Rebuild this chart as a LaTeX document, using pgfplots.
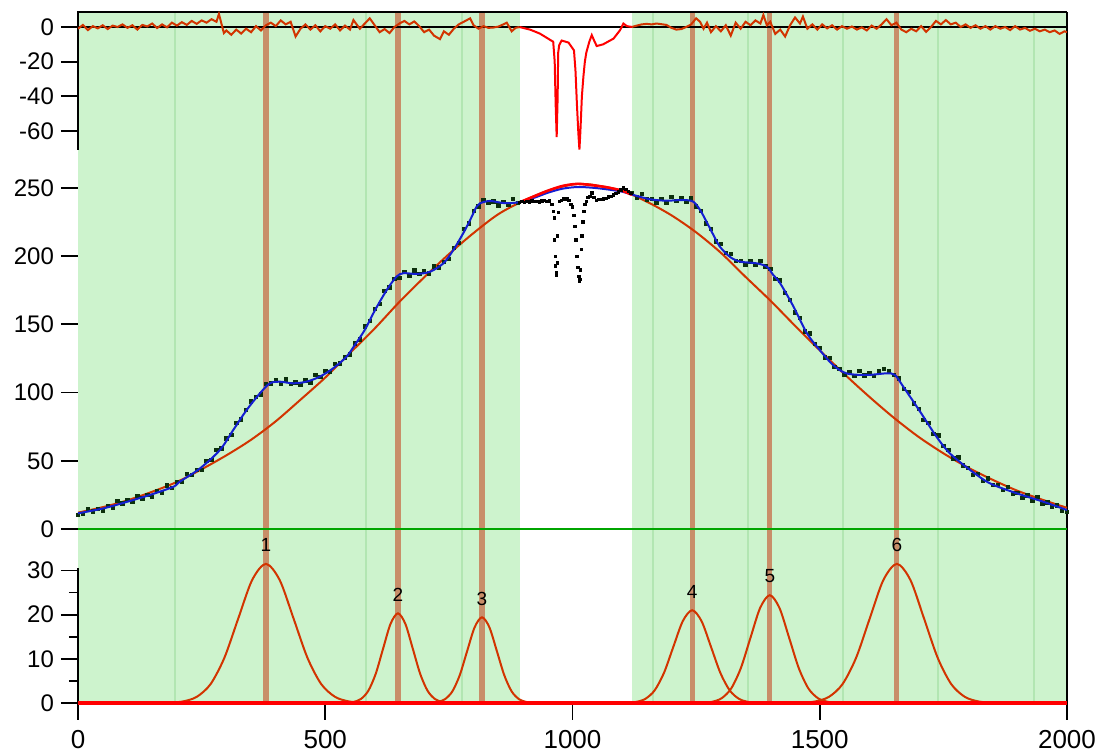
\documentclass[border=0pt]{standalone}
\usepackage{fontspec}
\setmainfont{Liberation Sans}
\usepackage{pgfplots}
\usepackage{pgfplotstable}
\pgfplotsset{compat=1.18}

\definecolor{bgg}{RGB}{205,243,205}
\definecolor{lgl}{RGB}{178,230,178}
\definecolor{tanl}{RGB}{200,142,105}
\definecolor{resc}{RGB}{210,52,0}
\definecolor{fitb}{RGB}{20,30,210}
\definecolor{dotc}{RGB}{12,48,12}
\definecolor{zgreen}{RGB}{0,165,0}

% fitted baseline (broad background)
\pgfplotstableread{
x y
0 12
50 16
100 21
150 27.3
200 34.5
250 43.8
300 54
350 65.4
400 79
450 94.8
500 111
550 129
600 147
650 166.5
700 184.5
750 201.5
800 217
850 230.8
900 240.5
950 248
1000 252.6
1030 252.8
1050 251.8
1100 248
1150 240
1200 230
1250 217.5
1300 202.5
1350 184.8
1400 167.5
1450 149
1500 131
1550 113.5
1600 97
1650 81.5
1700 67.5
1750 55.5
1800 45
1850 36
1900 28
1950 21.5
2000 15.5
}\baseline

% total fit
\pgfplotstableread{
x y
0 11.5
50 15
100 20
150 25.5
193 31
206 34.7
247 44.5
287 57.9
314 72.6
341 87.2
368 99.5
388 106.8
408 108
435 106.8
462 108
489 111.7
516 117.8
543 126.3
560 135
580 146
600 160
624 175
644 185
658 187.5
685 187
712 188.6
739 194.8
759 204.5
779 216.8
793 226.5
806 236.3
813 238.8
833 240.5
860 239
887 239.3
920 242.5
950 246.5
980 249.5
1010 250.7
1040 250.2
1070 249
1100 247.3
1123 244.9
1157 241.7
1190 240.7
1224 241.2
1244 240
1258 233.9
1271 225.3
1285 215.5
1298 207
1318 199.6
1339 196
1372 194.8
1393 192.3
1406 186.2
1420 180.1
1447 163
1474 143.5
1500 131.2
1527 120.2
1554 114.1
1595 112.9
1635 114.1
1652 112.9
1669 104.3
1703 86
1736 67.7
1763 55.5
1804 43.3
1844 33.5
1898 26.2
1952 20
2000 13.9
}\fit

% measured points inside the fit ranges
\pgfplotstableread{
x y
0 10.5
10 11.0
20 14.6
30 12.8
40 14.7
50 13.2
60 17.0
70 15.5
80 20.4
90 18.7
100 21.3
110 19.9
120 24.2
130 22.5
140 24.8
150 23.6
160 27.8
170 26.6
180 31.9
190 30.3
200 34.5
210 34.5
220 40.3
230 39.6
240 43.2
250 43.5
260 49.9
270 50.7
280 58.2
290 59.2
300 66.4
310 69.2
320 78.0
330 80.4
340 87.1
350 93.5
360 96.9
370 98.7
380 106.5
390 106.7
400 109.0
410 106.7
420 109.7
430 106.2
440 107.5
450 105.5
460 108.9
470 107.5
480 113.1
490 111.6
500 115.7
510 115.2
520 121.2
530 121.4
540 125.8
550 128.0
560 136.0
570 139.0
580 148.6
590 152.7
600 161.5
610 165.1
620 174.7
630 177.2
640 183.4
650 184.0
660 188.5
670 185.8
680 189.7
690 187.0
700 189.4
710 187.3
720 192.6
730 191.9
740 195.7
750 198.1
760 206.1
770 209.8
780 220.1
790 224.1
800 233.3
810 236.5
820 241.4
830 239.0
840 240.1
850 237.2
860 239.8
870 237.5
880 241.9
890 239.2
1120 246.5
1130 243.0
1140 245.5
1150 241.6
1160 242.0
1170 239.3
1180 242.0
1190 239.2
1200 243.4
1210 240.7
1220 242.6
1230 239.6
1240 242.4
1250 236.6
1260 233.0
1270 224.0
1280 220.1
1290 210.7
1300 208.9
1310 202.3
1320 201.5
1330 196.7
1340 196.4
1350 193.6
1360 196.2
1370 193.4
1380 196.4
1390 192.4
1400 190.5
1410 183.3
1420 182.3
1430 173.0
1440 167.8
1450 158.8
1460 154.6
1470 144.9
1480 143.3
1490 135.7
1500 132.7
1510 125.9
1520 125.3
1530 118.7
1540 117.4
1550 112.8
1560 115.0
1570 112.2
1580 115.9
1590 112.7
1600 114.6
1610 112.2
1620 115.9
1630 117.5
1640 115.9
1650 112.8
1660 110.4
1670 102.6
1680 100.6
1690 92.2
1700 88.0
1710 80.1
1720 77.6
1730 69.6
1740 68.5
1750 61.1
1760 57.9
1770 51.9
1780 52.6
1790 46.6
1800 44.9
1810 39.8
1820 40.4
1830 35.4
1840 37.1
1850 32.4
1860 32.4
1870 28.6
1880 30.9
1890 26.2
1900 26.4
1910 22.8
1920 24.6
1930 21.0
1940 23.5
1950 18.9
1960 19.4
1970 16.4
1980 17.3
1990 13.2
2000 12.5
}\datain

% excluded points
\pgfplotstableread{
x y
893 239.5
898 240
903 239.5
908 240.2
913 239.8
918 240.5
923 240
928 240.3
933 239.8
938 240.4
943 240.9
948 240.2
953 240.6
958 238
961 233
963 228
964 212
965 200
966 193
967 188
968 186
969 195
970 215
971 232
973 240
977 241
981 242
985 241.5
989 242.2
993 241
997 238
1000 236
1003 230
1005 222
1007 212
1009 200
1011 192
1013 185
1014 182
1015 183
1016 190
1018 205
1019 215
1021 225
1023 233
1025 238
1028 240
1031 243
1035 244
1039 246.5
1043 243
1048 241
1053 241.5
1058 241.8
1063 242
1068 242.5
1073 243.5
1078 244
1083 245
1088 246
1093 247
1098 248.5
1103 250
1108 249
1113 247.5
1118 246
}\dataout

\newcommand{\bands}{%
  \fill[bgg] (rel axis cs:0,0) rectangle (rel axis cs:0.4465,1);
  \fill[bgg] (rel axis cs:0.56,0) rectangle (rel axis cs:1,1);
  \pgfplotsinvokeforeach{0.098,0.291,0.388,0.5815,0.6775,0.7735,0.8695,0.9665}{
    \draw[lgl, line width=0.9pt] (rel axis cs:##1,0) -- (rel axis cs:##1,1);}
  \pgfplotsinvokeforeach{0.19,0.3235,0.4085,0.621,0.6995,0.828}{
    \draw[tanl, line width=2.6pt] (rel axis cs:##1,0) -- (rel axis cs:##1,1);}
  \draw[black, line width=0.9pt] (rel axis cs:1,0) -- (rel axis cs:1,1);
}

\pgfplotsset{
  panel/.style={
    scale only axis, width=494.5pt,
    xmin=0, xmax=2000,
    anchor=south west,
    clip mode=individual,
    axis line style={draw=none},
    tick align=outside,
    ytick pos=left, xtick pos=bottom,
    major tick length=8.5pt,
    minor tick length=4.5pt,
    tick style={black, line width=0.9pt},
    yticklabel style={font=\fontsize{12}{14}\selectfont},
    /pgf/number format/assume math mode=true,
    /pgf/number format/1000 sep={},
  },
}

\begin{document}
\begin{tikzpicture}
\path[use as bounding box] (0,0) rectangle (549.5pt,377pt);

% residuals
\begin{axis}[panel, at={(39pt,302pt)}, height=69pt,
  ymin=-70.98, ymax=8.66, ytick={-60,-40,-20,0}, xtick=\empty]
  \bands
  \draw[black, line width=0.9pt] (rel axis cs:0,0) -- (rel axis cs:0,1) -- (rel axis cs:1,1);
  \draw[black, line width=0.7pt] (axis cs:0,0) -- (axis cs:2000,0);
  \addplot[resc, line width=1pt] coordinates {
    (0,-1) (10,1.2) (20,-1.8) (30,0.5) (40,-0.8) (50,1) (60,-1.2) (70,0.8) (80,0) (90,1.5)
    (100,-0.5) (110,1) (120,-1.5) (130,1.2) (140,0.3) (150,2) (160,-0.6) (170,1.5) (180,-0.2) (190,2.5)
    (200,0.8) (210,2.8) (220,1.2) (230,3.5) (240,1.8) (250,3.8) (260,2.5) (270,4.5) (280,3) (285,7.5)
    (290,2) (295,-3.5) (300,-2) (310,-4.5) (320,-1.5) (330,-3.8) (340,-1) (350,-3) (360,0.5) (370,-2)
    (380,1) (390,2.5) (400,0.5) (410,3.8) (420,1.5) (430,3) (440,-5.5) (450,-1) (460,1.5) (470,-1.5)
    (480,1) (490,-2.5) (500,0.5) (510,-1) (520,1.5) (530,-2) (540,0.8) (550,-1.5) (557,4) (570,-1)
    (580,2) (590,5) (600,1) (610,-3) (620,-1.2) (630,-3.5) (640,0) (650,2) (660,3.5) (670,1.5)
    (680,3.2) (690,0.5) (700,-3) (710,-1.5) (720,-5) (732,-7) (740,-2.5) (750,-4.5) (760,-1) (770,1.5)
    (780,3) (793,5) (800,1) (810,-1) (820,0.5) (830,-0.5) (840,-0.3) (850,0.2) (860,1.5) (867,2.5)
    (877,-2.5) (885,-0.5) (893,0)};
  \addplot[resc, line width=1pt] coordinates {
    (1120,0) (1130,0.8) (1140,1.5) (1150,1.8) (1160,1.5) (1170,2) (1180,1.6) (1190,1.2) (1200,-0.5)
    (1210,-1.5) (1220,-1.2) (1230,0) (1240,1.5) (1250,5) (1258,3) (1265,-1) (1272,2.5) (1280,-3)
    (1290,0.5) (1300,-2.5) (1310,1) (1320,-5) (1330,2.5) (1340,-1) (1350,3) (1360,1) (1370,3.8)
    (1380,2) (1386,7) (1393,1) (1400,3) (1410,-4) (1420,-1.5) (1430,-5.5) (1440,1) (1450,5.5)
    (1460,2) (1466,6) (1475,-1) (1485,1.5) (1495,-1.5) (1505,1.5) (1515,-0.8) (1525,1) (1535,-1.5)
    (1545,0.5) (1555,-1) (1565,0.3) (1575,-1.5) (1585,-0.2) (1595,-2) (1605,0.8) (1615,-1) (1625,1.5)
    (1635,4.5) (1645,1) (1655,2.5) (1665,-1.5) (1675,-3) (1685,-1) (1695,-2.5) (1705,0.5) (1715,-2.8)
    (1725,0) (1735,3.5) (1745,1.5) (1755,4) (1765,1.5) (1775,2.5) (1785,0) (1795,1.5) (1805,-0.5)
    (1815,1) (1825,-1) (1835,0.5) (1845,-1.5) (1855,0.5) (1865,-1) (1875,0) (1885,-1.8) (1895,0.5)
    (1905,-1.5) (1915,-0.5) (1925,-2.2) (1935,-1) (1945,-2.5) (1955,-1.5) (1965,-3) (1975,-2)
    (1985,-4) (1995,-2.5) (2000,-3)};
  \addplot[red, line width=1pt] coordinates {
    (893,0) (914,-1.5) (934,-3.8) (954,-7.3) (961,-8.5) (964,-20) (966,-45) (968,-63.5) (970,-40)
    (971,-15) (973,-10.6) (978,-7.8) (992,-9) (1003,-13.5) (1006,-25) (1009,-45) (1012,-62)
    (1014,-70.8) (1016,-60) (1019,-40) (1022,-28.8) (1025,-20) (1028,-14.7) (1034,-8.5) (1039,-4.7)
    (1044,-8) (1049,-11) (1062,-10) (1083,-6.7) (1096,-1.9) (1103,2) (1110,0.5) (1120,0)};
\end{axis}

% data and fit
\begin{axis}[panel, at={(39pt,107pt)}, height=195pt,
  ymin=-8.06, ymax=277.86, ytick={0,50,...,250}, xtick=\empty]
  \bands
  \draw[zgreen, line width=1.2pt] (axis cs:0,0) -- (axis cs:2000,0);
  \addplot[resc, line width=1pt, smooth] table {\baseline};
  \addplot[only marks, mark=square*, mark size=0.85pt, dotc] table {\datain};
  \addplot[fitb, line width=1pt, smooth, tension=0.5] table {\fit};
  \addplot[red, line width=1.3pt, smooth] coordinates {
    (893,239.5) (920,243.5) (950,248) (980,251.5) (1010,253) (1040,252) (1070,250.5) (1100,248) (1120,245)};
  \addplot[only marks, mark=square*, mark size=0.6pt, black] table {\dataout};
\end{axis}

% component peaks
\begin{axis}[panel, at={(39pt,25.5pt)}, height=81.5pt,
  ymin=0, ymax=36.9, ytick={0,10,20,30}, minor ytick={5,15,25},
  xtick={0,500,1000,1500,2000},
  xticklabel style={font=\fontsize{13}{15}\selectfont, yshift=-1.5pt}]
  \bands
  \draw[black, line width=0.9pt] (axis cs:0,0) -- (axis cs:0,30.5);
  \addplot[resc, line width=1pt, smooth] coordinates {
    (156,0.01) (184,0.07) (212,0.35) (240,1.38) (268,4.26) (296,10.23) (324,19.10) (352,27.80) (380,31.5)
    (408,27.80) (436,19.10) (464,10.23) (492,4.26) (520,1.38) (548,0.35) (576,0.07) (604,0.01)};
  \addplot[resc, line width=1pt, smooth] coordinates {
    (542,0.04) (557,0.23) (572,0.89) (587,2.75) (602,6.59) (617,12.31) (632,17.91) (647,20.3)
    (662,17.91) (677,12.31) (692,6.59) (707,2.75) (722,0.89) (737,0.23) (752,0.04)};
  \addplot[resc, line width=1pt, smooth] coordinates {
    (712,0.04) (727,0.22) (742,0.85) (757,2.62) (772,6.30) (787,11.77) (802,17.12) (817,19.4)
    (832,17.12) (847,11.77) (862,6.30) (877,2.62) (892,0.85) (907,0.22) (922,0.04)};
  \addplot[resc, line width=1pt, smooth] coordinates {
    (1109,0.05) (1128,0.23) (1147,0.92) (1166,2.84) (1185,6.82) (1204,12.74) (1223,18.53) (1242,21)
    (1261,18.53) (1280,12.74) (1299,6.82) (1318,2.84) (1337,0.92) (1356,0.23) (1375,0.05)};
  \addplot[resc, line width=1pt, smooth] coordinates {
    (1262.5,0.05) (1282,0.27) (1301.5,1.07) (1321,3.30) (1340.5,7.92) (1360,14.80) (1379.5,21.53) (1399,24.4)
    (1418.5,21.53) (1438,14.80) (1457.5,7.92) (1477,3.30) (1496.5,1.07) (1516,0.27) (1535.5,0.05)};
  \addplot[resc, line width=1pt, smooth] coordinates {
    (1436,0.01) (1463.5,0.07) (1491,0.35) (1518.5,1.38) (1546,4.26) (1573.5,10.23) (1601,19.10) (1628.5,27.80)
    (1656,31.5) (1683.5,27.80) (1711,19.10) (1738.5,10.23) (1766,4.26) (1793.5,1.38) (1821,0.35)
    (1848.5,0.07) (1876,0.01)};
  \draw[red, line width=2pt] (axis cs:0,0) -- (axis cs:2000,0);
  \begin{scope}[every node/.style={anchor=south, yshift=2.5pt, font=\fontsize{9.5}{11}\selectfont}]
    \node at (axis cs:380,31.5) {1};
    \node at (axis cs:647,20.3) {2};
    \node at (axis cs:817,19.4) {3};
    \node at (axis cs:1242,21) {4};
    \node at (axis cs:1399,24.4) {5};
    \node at (axis cs:1656,31.5) {6};
  \end{scope}
\end{axis}
\end{tikzpicture}
\end{document}
